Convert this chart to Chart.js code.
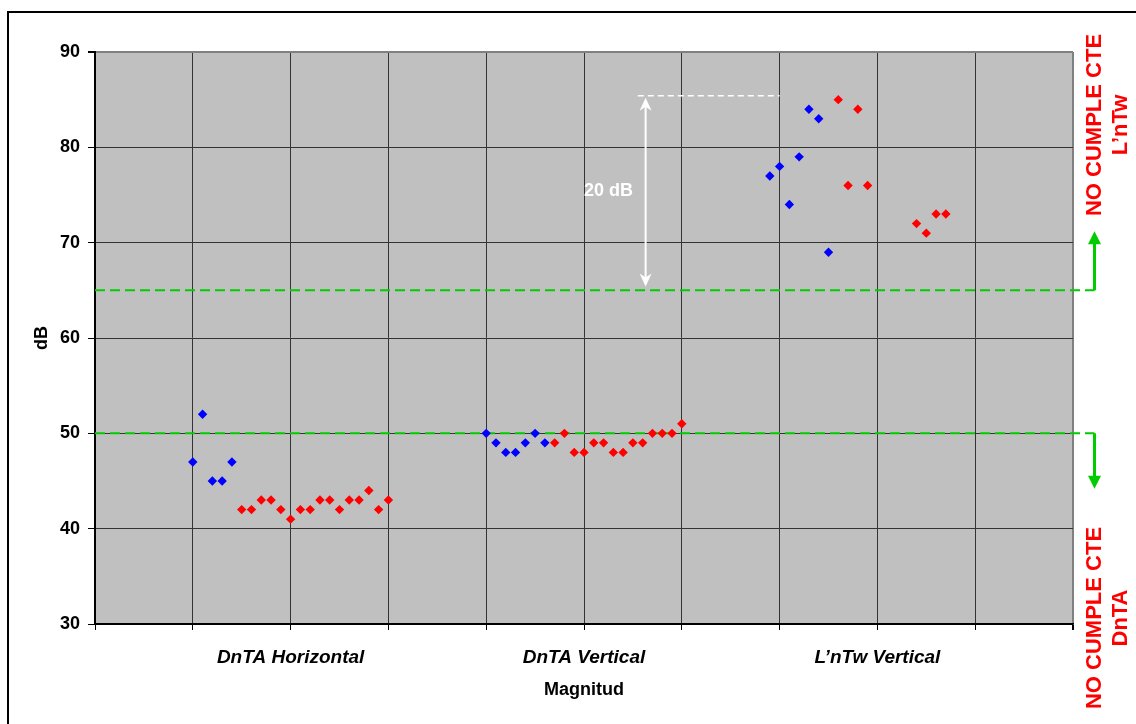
<!DOCTYPE html>
<html>
<head>
<meta charset="utf-8">
<script src="https://cdn.jsdelivr.net/npm/chart.js@4.4.0/dist/chart.umd.min.js"></script>
<style>
  html, body { margin: 0; padding: 0; background: #fff; }
</style>
</head>
<body>
<canvas id="chart" width="1136" height="724"></canvas>
<script>
// Nº de ensayo (posición en el eje) y valor medido en dB
const horizBlueX = [10, 11, 12, 13, 14];
const horizBlueY = [47, 52, 45, 45, 47];
const horizRedX  = [15, 16, 17, 18, 19, 20, 21, 22, 23, 24, 25, 26, 27, 28, 29, 30];
const horizRedY  = [42, 42, 43, 43, 42, 41, 42, 42, 43, 43, 42, 43, 43, 44, 42, 43];

const vertBlueX = [40, 41, 42, 43, 44, 45, 46];
const vertBlueY = [50, 49, 48, 48, 49, 50, 49];
const vertRedX  = [47, 48, 49, 50, 51, 52, 53, 54, 55, 56, 57, 58, 59, 60];
const vertRedY  = [49, 50, 48, 48, 49, 49, 48, 48, 49, 49, 50, 50, 50, 51];

const impBlueX = [69, 70, 71, 72, 73, 74, 75];
const impBlueY = [77, 78, 74, 79, 84, 83, 69];
const impRedX  = [76, 77, 78, 79, 84, 85, 86, 87];
const impRedY  = [85, 76, 84, 76, 72, 71, 73, 73];

// Etiquetas del eje X (grupos) y ticks del eje Y
const groupTicks  = [20, 50, 80];
const groupLabels = ['DnTA Horizontal', 'DnTA Vertical', 'L\u2019nTw Vertical'];
const yTicks = [30, 40, 50, 60, 70, 80, 90];

// Límites CTE y anotaciones
const limits      = [65, 50];        // L'nTw , DnTA
const limitArrows = [71.2, 44.2];    // hasta donde llegan las flechas verdes
const limitEndX   = 102.2;           // el trazo sale fuera del área
const gapTop      = 85.4;
const gapLineX    = [55.5, 70];
const gapArrowX   = 56.3;
const gapArrowY   = [65.4, 85.2];
const gapLabel    = '20 dB';
const gapLabelPos = [52.5, 75.4];

const FONT = '"Liberation Sans", Arial, sans-serif';

function pts(xs, ys) {
  return xs.map((x, i) => ({ x: x, y: ys[i] }));
}
const blueData = [].concat(pts(horizBlueX, horizBlueY), pts(vertBlueX, vertBlueY), pts(impBlueX, impBlueY));
const redData  = [].concat(pts(horizRedX, horizRedY), pts(vertRedX, vertRedY), pts(impRedX, impRedY));

function arrowHead(ctx, x, y, dir, w, h) {
  // punta en (x,y); dir -1 hacia arriba, 1 hacia abajo
  ctx.beginPath();
  ctx.moveTo(x, y);
  ctx.lineTo(x - w / 2, y - dir * h);
  ctx.lineTo(x + w / 2, y - dir * h);
  ctx.closePath();
  ctx.fill();
}

function stealthHead(ctx, x, y, dir) {
  ctx.beginPath();
  ctx.moveTo(x, y);
  ctx.lineTo(x - 6, y - dir * 13);
  ctx.lineTo(x, y - dir * 9);
  ctx.lineTo(x + 6, y - dir * 13);
  ctx.closePath();
  ctx.fill();
}

const decor = {
  id: 'decor',
  beforeDraw(chart) {
    const { ctx, chartArea: a } = chart;
    ctx.save();
    ctx.fillStyle = '#c0c0c0';
    ctx.fillRect(a.left, a.top, a.right - a.left, a.bottom - a.top);
    ctx.strokeStyle = '#000';
    ctx.lineWidth = 2;
    ctx.strokeRect(8, 12, chart.width + 20, chart.height + 20);
    ctx.restore();
  },
  beforeDatasetsDraw(chart) {
    const { ctx, chartArea: a } = chart;
    const xs = chart.scales.x, ys = chart.scales.y;
    const xEnd = xs.getPixelForValue(limitEndX);
    ctx.save();
    ctx.strokeStyle = '#00cc00';
    ctx.fillStyle = '#00cc00';
    limits.forEach((lim, i) => {
      const y = ys.getPixelForValue(lim);
      ctx.lineWidth = 2;
      ctx.setLineDash([10, 5]);
      ctx.beginPath();
      ctx.moveTo(a.left, y);
      ctx.lineTo(xEnd, y);
      ctx.stroke();
      const tip = ys.getPixelForValue(limitArrows[i]);
      const dir = tip < y ? -1 : 1;
      ctx.setLineDash([]);
      ctx.lineWidth = 3;
      ctx.beginPath();
      ctx.moveTo(xEnd, y);
      ctx.lineTo(xEnd, tip - dir * 12);
      ctx.stroke();
      arrowHead(ctx, xEnd, tip, dir, 13, 13);
    });
    ctx.restore();
  },
  afterDatasetsDraw(chart) {
    const { ctx, chartArea: a } = chart;
    const xs = chart.scales.x, ys = chart.scales.y;
    ctx.save();
    // línea discontinua blanca y flecha de 20 dB
    ctx.strokeStyle = '#fff';
    ctx.fillStyle = '#fff';
    ctx.lineWidth = 1.5;
    ctx.setLineDash([6, 4]);
    const yTop = ys.getPixelForValue(gapTop);
    ctx.beginPath();
    ctx.moveTo(xs.getPixelForValue(gapLineX[0]), yTop);
    ctx.lineTo(xs.getPixelForValue(gapLineX[1]), yTop);
    ctx.stroke();
    ctx.setLineDash([]);
    const ax = xs.getPixelForValue(gapArrowX);
    const y0 = ys.getPixelForValue(gapArrowY[0]);
    const y1 = ys.getPixelForValue(gapArrowY[1]);
    ctx.lineWidth = 2;
    ctx.beginPath();
    ctx.moveTo(ax, y0 - 8);
    ctx.lineTo(ax, y1 + 8);
    ctx.stroke();
    stealthHead(ctx, ax, y1, -1);
    stealthHead(ctx, ax, y0, 1);
    ctx.font = 'bold 18px ' + FONT;
    ctx.textAlign = 'center';
    ctx.textBaseline = 'middle';
    ctx.fillText(gapLabel, xs.getPixelForValue(gapLabelPos[0]), ys.getPixelForValue(gapLabelPos[1]));

    // textos rojos laterales
    ctx.fillStyle = '#ff0000';
    ctx.font = 'bold 22px ' + FONT;
    const side = [
      { cy: a.top + 73, lines: ['NO CUMPLE CTE', 'L\u2019nTw'] },
      { cy: a.bottom - 6, lines: ['NO CUMPLE CTE', 'DnTA'] }
    ];
    side.forEach(s => {
      s.lines.forEach((t, k) => {
        ctx.save();
        ctx.translate(a.right + 22 + k * 26, s.cy);
        ctx.rotate(-Math.PI / 2);
        ctx.fillText(t, 0, 0);
        ctx.restore();
      });
    });
    ctx.restore();
  }
};

new Chart(document.getElementById('chart'), {
  type: 'scatter',
  data: {
    datasets: [
      { data: blueData, pointStyle: 'rectRot', pointRadius: 4.7, backgroundColor: '#0000ff', borderWidth: 0 },
      { data: redData, pointStyle: 'rectRot', pointRadius: 4.7, backgroundColor: '#ff0000', borderWidth: 0 }
    ]
  },
  options: {
    responsive: false,
    animation: false,
    layout: { padding: { top: 52, right: 63, left: 0, bottom: 0 } },
    plugins: { legend: { display: false }, tooltip: { enabled: false } },
    scales: {
      x: {
        type: 'linear', min: 0, max: 100,
        afterFit(s) { s.height = 100; },
        ticks: {
          stepSize: 10, autoSkip: false, maxRotation: 0, minRotation: 0, padding: 16,
          color: '#000',
          font: { family: FONT, size: 19, weight: 'bold', style: 'italic' },
          callback: v => {
            const i = groupTicks.indexOf(v);
            return i >= 0 ? groupLabels[i] : '';
          }
        },
        grid: {
          color: c => c.tick && c.tick.value === 100 ? '#808080' : '#333',
          lineWidth: c => c.tick && c.tick.value === 100 ? 2 : 1,
          tickLength: 6, tickColor: '#000'
        },
        border: { color: '#000', width: 1.5 },
        title: {
          display: true, text: 'Magnitud', color: '#000',
          font: { family: FONT, size: 18, weight: 'bold' },
          padding: { top: 0, bottom: 23 }
        }
      },
      y: {
        min: 30, max: 90,
        afterFit(s) { s.width = 95; },
        afterBuildTicks(s) { s.ticks = yTicks.map(v => ({ value: v })); },
        ticks: {
          padding: 8, color: '#000',
          font: { family: FONT, size: 18, weight: 'bold' }
        },
        grid: {
          color: c => c.tick && c.tick.value === 90 ? '#808080' : (c.tick && c.tick.value === 30 ? '#000' : '#333'),
          lineWidth: c => c.tick && c.tick.value === 90 ? 2 : 1,
          tickLength: 7, tickColor: '#000'
        },
        border: { color: '#000', width: 2 },
        title: {
          display: true, text: 'dB', color: '#000',
          font: { family: FONT, size: 18, weight: 'bold' },
          padding: { top: 31, bottom: 0 }
        }
      }
    }
  },
  plugins: [decor]
});
</script>
</body>
</html>
